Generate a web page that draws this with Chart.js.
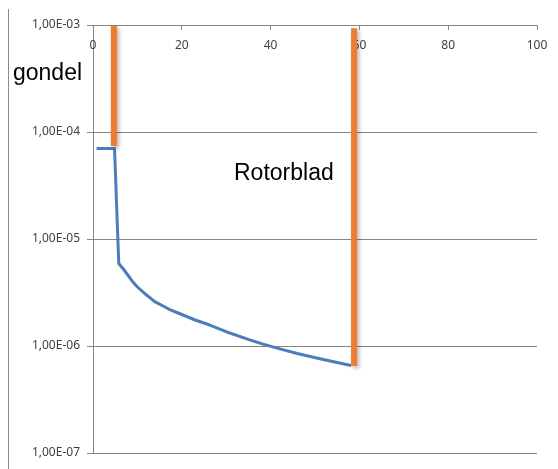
<!DOCTYPE html>
<html>
<head>
<meta charset="utf-8">
<script src="https://cdn.jsdelivr.net/npm/chart.js@4.4.1/dist/chart.umd.min.js"></script>
<style>
  body { margin: 0; background: #fff; }
  #wrap { width: 558px; height: 469px; }
</style>
</head>
<body>
<div id="wrap"><canvas id="chart" width="558" height="469"></canvas></div>
<script>
// blue curve
const curveX = [0.8, 4.85, 5.8, 7, 8, 9, 10, 11.5, 13.9, 16, 17.3, 20, 23, 26.3, 30,
                35.3, 38.3, 42.1, 46, 51.1, 55, 58.1];
const curveY = [7.0e-5, 7.0e-5, 5.9e-6, 5.13e-6, 4.51e-6, 3.96e-6, 3.56e-6, 3.13e-6, 2.6e-6, 2.34e-6,
                2.19e-6, 1.97e-6, 1.75e-6, 1.57e-6, 1.36e-6, 1.14e-6, 1.04e-6, 9.4e-7, 8.5e-7,
                7.6e-7, 7.0e-7, 6.58e-7];

// orange markers
const gondelX = [4.7, 4.7];
const gondelY = [9.8e-4, 7.4e-5];
const rotorX = [58.8, 58.8];
const rotorY = [9.3e-4, 6.5e-7];

const yTicks = [1e-7, 1e-6, 1e-5, 1e-4, 1e-3];
const xMin = 0, xMax = 100, xStep = 20;

const toPoints = (xs, ys) => xs.map((x, i) => ({ x: x, y: ys[i] }));

function sciLabel(v) {
    const e = Math.round(Math.log10(v));
    const m = v / Math.pow(10, e);
    return m.toFixed(2).replace('.', ',') + 'E' + (e < 0 ? '-' : '+') + String(Math.abs(e)).padStart(2, '0');
}

const gridGray = '#868686';
const labelColor = '#404040';
const labelFont = { family: 'Noto Sans', size: 12 };

const extras = {
    id: 'extras',
    beforeDatasetsDraw(chart) {
        // x tick labels sit inside the plot, under the top axis
        const ctx = chart.ctx;
        const xs = chart.scales.x;
        ctx.save();
        ctx.fillStyle = labelColor;
        ctx.font = labelFont.size + 'px "' + labelFont.family + '"';
        ctx.textAlign = 'center';
        ctx.textBaseline = 'middle';
        xs.ticks.forEach(t => {
            ctx.fillText(String(t.value), xs.getPixelForValue(t.value), xs.bottom + 21);
        });
        ctx.restore();
    },
    beforeDatasetDraw(chart, args) {
        const ctx = chart.ctx;
        ctx.save();
        if (args.index < 2) {
            ctx.shadowColor = 'rgba(0,0,0,0.3)';
            ctx.shadowBlur = 4;
            ctx.shadowOffsetX = 2;
            ctx.shadowOffsetY = 2;
        }
    },
    afterDatasetDraw(chart) {
        chart.ctx.restore();
    },
    afterDraw(chart) {
        const ctx = chart.ctx;
        ctx.save();
        // outer frame edge
        ctx.strokeStyle = '#8a8a8a';
        ctx.lineWidth = 1;
        ctx.beginPath();
        ctx.moveTo(8.5, 9);
        ctx.lineTo(8.5, 469);
        ctx.stroke();
        // annotations
        ctx.fillStyle = '#000';
        ctx.font = '23px "Liberation Sans"';
        ctx.textBaseline = 'alphabetic';
        ctx.fillText('gondel', 13, 80);
        ctx.fillText('Rotorblad', 234, 180);
        ctx.restore();
    }
};

new Chart(document.getElementById('chart').getContext('2d'), {
    type: 'scatter',
    data: {
        datasets: [
            {
                label: 'gondel',
                data: toPoints(gondelX, gondelY),
                showLine: true,
                borderColor: '#ED7D31',
                borderWidth: 6,
                borderCapStyle: 'butt',
                pointRadius: 0
            },
            {
                label: 'rotorblad',
                data: toPoints(rotorX, rotorY),
                showLine: true,
                borderColor: '#ED7D31',
                borderWidth: 6,
                borderCapStyle: 'butt',
                pointRadius: 0
            },
            {
                label: 'curve',
                data: toPoints(curveX, curveY),
                showLine: true,
                borderColor: '#4A7EBB',
                borderWidth: 3,
                tension: 0,
                borderJoinStyle: 'round',
                pointRadius: 0
            }
        ]
    },
    options: {
        responsive: false,
        animation: false,
        layout: { padding: { left: 0, top: 25, right: 21, bottom: 16 } },
        plugins: {
            legend: { display: false },
            tooltip: { enabled: false }
        },
        scales: {
            x: {
                type: 'linear',
                position: 'top',
                min: xMin,
                max: xMax,
                ticks: { stepSize: xStep, display: false },
                grid: { drawOnChartArea: false, drawTicks: true, tickLength: -5, color: gridGray },
                border: { color: gridGray },
                afterFit: (scale) => { scale.height = 0; }
            },
            y: {
                type: 'logarithmic',
                min: yTicks[0],
                max: yTicks[yTicks.length - 1],
                afterBuildTicks: (scale) => { scale.ticks = yTicks.map(v => ({ value: v })); },
                ticks: { callback: (v) => sciLabel(v), font: labelFont, color: labelColor, padding: 7 },
                grid: { color: gridGray, tickLength: 6 },
                border: { color: gridGray },
                afterFit: (scale) => { scale.width = 93; }
            }
        }
    },
    plugins: [extras]
});
</script>
</body>
</html>
